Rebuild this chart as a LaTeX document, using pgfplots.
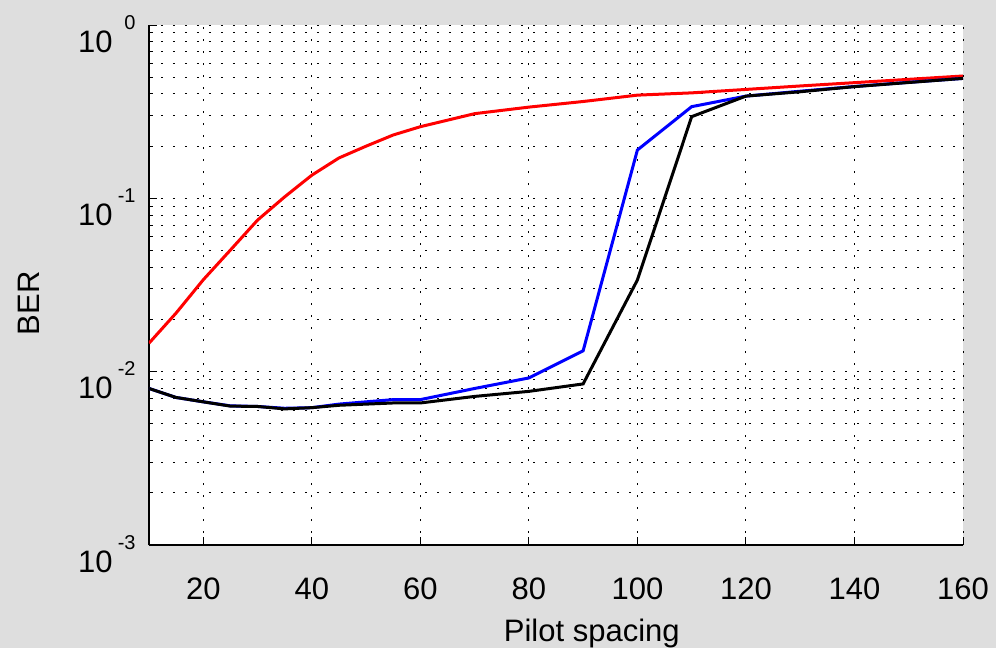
\documentclass[border=0pt]{standalone}
\usepackage{fontspec}
\setmainfont{Liberation Sans}
\usepackage{pgfplots}
\pgfplotsset{compat=1.18}
\usetikzlibrary{backgrounds}
\definecolor{figbg}{RGB}{222,222,222}
% log tick label: "10" with a raised exponent, MATLAB style
\newcommand{\ex}[1]{10\makebox[11.5bp][r]{\fontsize{10bp}{12bp}\selectfont\raisebox{11.5bp}{#1}}}

\begin{document}
\begin{tikzpicture}
\begin{axis}[
    scale only axis,
    width=407bp, height=260bp,
    ymode=log,
    xmin=10, xmax=160,
    ymin=1e-3, ymax=1,
    axis x line*=bottom,
    axis y line*=left,
    axis line style={black, line width=0.6bp},
    axis background/.style={fill=white},
    tick align=inside,
    major tick length=4bp,
    minor tick length=2bp,
    every tick/.style={black, line width=0.5bp},
    xtick={20,40,...,160},
    /pgf/number format/assume math mode=true,
    ytick={1e-3,1e-2,1e-1,1},
    yticklabels={\ex{-3},\ex{-2},\ex{-1},\ex{0}},
    minor ytick={2e-3,3e-3,4e-3,5e-3,6e-3,7e-3,8e-3,9e-3,
                 2e-2,3e-2,4e-2,5e-2,6e-2,7e-2,8e-2,9e-2,
                 2e-1,3e-1,4e-1,5e-1,6e-1,7e-1,8e-1,9e-1},
    xmajorgrids, ymajorgrids, yminorgrids,
    grid style={black, line width=0.5bp, dash pattern=on 0.9bp off 5.1bp},
    tick label style={font=\fontsize{15.5bp}{18bp}\selectfont},
    xticklabel style={anchor=base, inner sep=0pt, yshift=-27bp},
    yticklabel style={anchor=base east, inner sep=0pt, xshift=-6.5bp, yshift=-13.5bp},
    label style={font=\fontsize{15.5bp}{18bp}\selectfont},
    xlabel={Pilot spacing},
    xlabel style={at={(axis description cs:0.544,0)}, anchor=base, inner sep=0pt, yshift=-48.4bp},
    ylabel={BER},
    ylabel style={at={(axis description cs:0,0.465)}, anchor=base, inner sep=0pt, yshift=54.5bp},
]
% red
\addplot[red, line width=1.5bp] coordinates {
 (10,0.0146) (15,0.0218) (20,0.0339) (25,0.0503) (30,0.0749) (35,0.102)
 (40,0.136) (45,0.171) (50,0.200) (55,0.232) (60,0.259) (70,0.308)
 (80,0.336) (90,0.362) (100,0.394) (110,0.406) (120,0.425) (130,0.445)
 (140,0.465) (150,0.486) (160,0.508)};
% blue
\addplot[blue, line width=1.5bp] coordinates {
 (10,0.0080) (15,0.0071) (20,0.0067) (25,0.00635) (30,0.0063) (35,0.00615)
 (40,0.0062) (45,0.0065) (50,0.0067) (55,0.0069) (60,0.0069) (70,0.0080)
 (80,0.0092) (90,0.0132) (100,0.190) (110,0.338) (120,0.389) (130,0.415)
 (140,0.442) (150,0.467) (160,0.492)};
% black
\addplot[black, line width=1.5bp] coordinates {
 (10,0.0080) (15,0.0071) (20,0.0067) (25,0.00633) (30,0.0063) (35,0.0061)
 (40,0.0062) (45,0.0064) (50,0.0065) (55,0.0066) (60,0.0066) (70,0.0072)
 (80,0.0077) (90,0.0085) (100,0.0338) (110,0.296) (120,0.389) (130,0.412)
 (140,0.441) (150,0.466) (160,0.492)};
\end{axis}
\begin{scope}[on background layer]
\fill[figbg] (-74.5bp,-51.5bp) rectangle (423.5bp,272.5bp);
\end{scope}
\end{tikzpicture}
\end{document}
